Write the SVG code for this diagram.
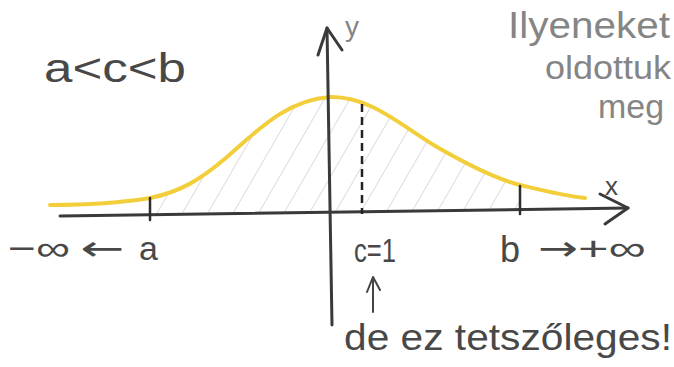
<svg xmlns="http://www.w3.org/2000/svg" width="674" height="367" viewBox="0 0 674 367">
<defs>
<style>
.hand{font-family:"Liberation Sans","DejaVu Sans",sans-serif;fill:#484848}
.sym{font-family:"DejaVu Sans","Liberation Sans",sans-serif;fill:#484848}
.note{font-family:"Liberation Sans","DejaVu Sans",sans-serif;fill:#858585}
.ax{fill:none;stroke:#3a3a3a;stroke-width:3;stroke-linecap:round;stroke-linejoin:round}
.tick{fill:none;stroke:#2e2e2e;stroke-width:2.5;stroke-linecap:round}
.hatch{stroke:#c4c4c4;stroke-width:1.2}
</style>
<clipPath id="area">
<path d="M150,198 C180,192 200,180 227,157 C255,133 285,100 330,97 C370,96 400,125 437,147 C470,166 500,180 520,185 L520,210 L150,215 Z"/>
</clipPath>
<pattern id="hp" width="22" height="22" patternUnits="userSpaceOnUse" patternTransform="rotate(30)">
<line x1="0" y1="0" x2="0" y2="22" class="hatch"/>
</pattern>
</defs>
<rect width="674" height="367" fill="#ffffff"/>

<g id="hatching">
<rect x="140" y="90" width="390" height="130" fill="url(#hp)" clip-path="url(#area)"/>
</g>

<g id="curve">
<path d="M50,205 C90,205 120,203 150,198 C180,192 200,180 227,157 C255,133 285,100 330,97 C370,96 400,125 437,147 C470,166 500,180 520,185 C545,191 565,196 585,198" fill="none" stroke="#f2cf3a" stroke-width="4" stroke-linecap="round"/>
</g>

<g id="connectors">
<path class="ax" d="M60,216 L628,208"/>
<path class="ax" d="M600,194 L628,208 L605,224"/>
<path class="ax" d="M332,325 L327,28"/>
<path class="ax" d="M318,55 L327,28 L342,50"/>
<line class="tick" x1="150" y1="198" x2="150" y2="220"/>
<line class="tick" x1="520" y1="186" x2="520" y2="214"/>
<line x1="362" y1="104" x2="362" y2="214" stroke="#222" stroke-width="2.5" stroke-dasharray="8,5"/>
<path d="M373,312 L373,277 M367,292 L373,277 L380,290" fill="none" stroke="#444" stroke-width="2" stroke-linecap="round" stroke-linejoin="round"/>
</g>

<g id="labels">
<text class="note" x="345" y="36" font-size="28">y</text>
<text class="hand" x="605" y="195" font-size="26" fill="#555">x</text>
<text class="hand" x="44" y="82" font-size="40" textLength="142" lengthAdjust="spacingAndGlyphs">a&lt;c&lt;b</text>
<text class="hand" x="8" y="260" font-size="34" textLength="62" lengthAdjust="spacingAndGlyphs">−∞</text>
<text class="sym" x="80" y="260" font-size="34" textLength="44" lengthAdjust="spacingAndGlyphs">←</text>
<text class="hand" x="139" y="260" font-size="34">a</text>
<text class="hand" x="354" y="262" font-size="34" textLength="42" lengthAdjust="spacingAndGlyphs">c=1</text>
<text class="hand" x="500" y="262" font-size="36">b</text>
<text class="sym" x="538" y="260" font-size="34" textLength="40" lengthAdjust="spacingAndGlyphs">→</text>
<text class="hand" x="578" y="260" font-size="34" textLength="68" lengthAdjust="spacingAndGlyphs">+∞</text>
<text class="hand" x="344" y="350" font-size="36" textLength="328" lengthAdjust="spacingAndGlyphs">de ez tetszőleges!</text>
</g>

<g id="note">
<text class="note" x="508" y="38" font-size="36" textLength="162" lengthAdjust="spacingAndGlyphs">Ilyeneket</text>
<text class="note" x="545" y="79" font-size="34" textLength="126" lengthAdjust="spacingAndGlyphs">oldottuk</text>
<text class="note" x="598" y="118" font-size="34" textLength="66" lengthAdjust="spacingAndGlyphs">meg</text>
</g>
</svg>
